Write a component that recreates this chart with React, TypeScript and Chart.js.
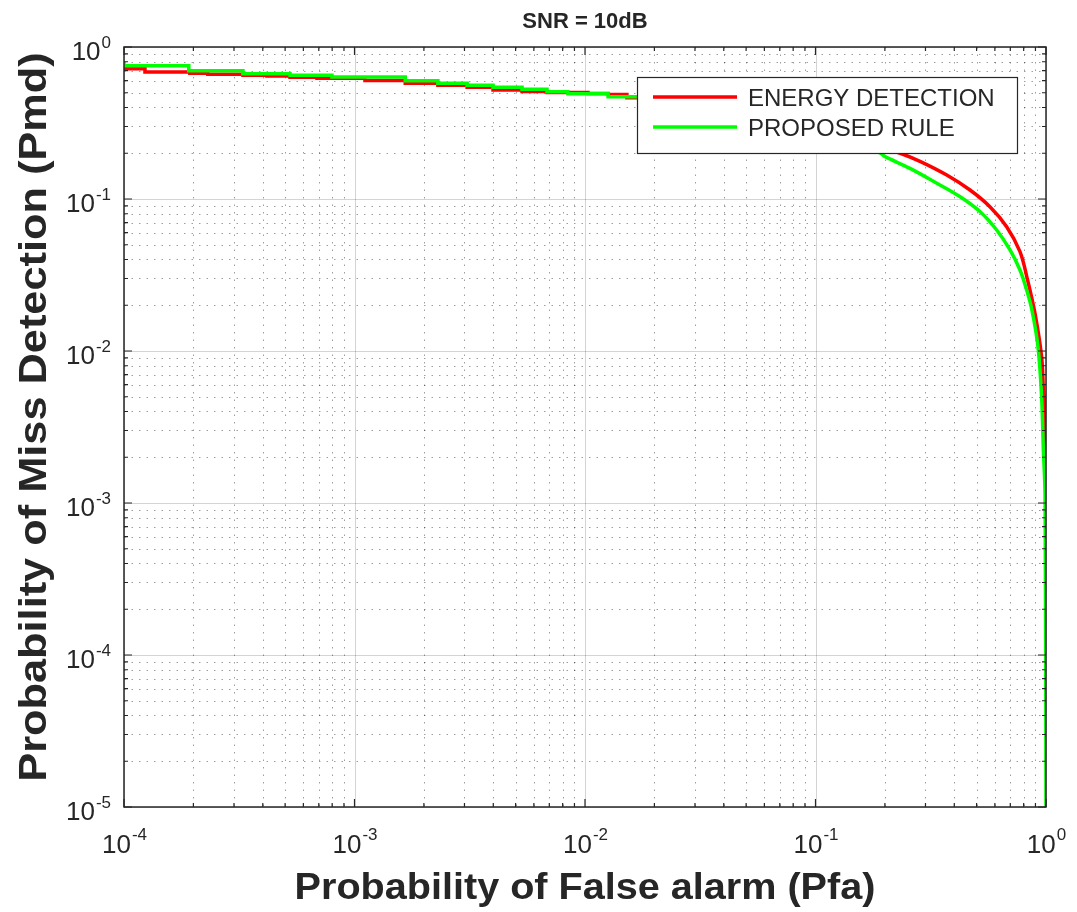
import React, { useEffect, useRef } from "react";
import { Chart, registerables } from "chart.js";
Chart.register(...registerables);

const TITLE = "SNR = 10dB";
const X_LABEL = "Probability of False alarm (Pfa)";
const Y_LABEL = "Probability of Miss Detection (Pmd)";
const SERIES_NAMES = ["ENERGY DETECTION", "PROPOSED RULE"];
const X_TICK_EXPONENTS = [-4, -3, -2, -1, 0];
const Y_TICK_EXPONENTS = [0, -1, -2, -3, -4, -5];

// Energy detection (red): staircase part (first 36 points), then smooth tail
const pfaEnergy = [
  1e-4, 1.233e-4, 1.233e-4, 1.93e-4, 1.93e-4, 2.31e-4, 2.31e-4, 3.28e-4, 3.28e-4,
  4.17e-4, 4.17e-4, 5.25e-4, 5.25e-4, 6.87e-4, 6.87e-4, 1.11e-3, 1.11e-3, 1.66e-3,
  1.66e-3, 2.3e-3, 2.3e-3, 3.08e-3, 3.08e-3, 3.99e-3, 3.99e-3, 5.33e-3, 5.33e-3,
  6.84e-3, 6.84e-3, 1.03e-2, 1.03e-2, 1.26e-2, 1.26e-2, 1.52e-2, 1.52e-2, 1.68e-2,
  0.0316, 0.0574, 0.1047, 0.156, 0.233, 0.284, 0.371, 0.468, 0.571, 0.675, 0.771,
  0.828, 0.895, 0.957, 0.973, 0.991, 1.0,
];
const pmdEnergy = [
  0.72, 0.72, 0.685, 0.685, 0.671, 0.671, 0.661, 0.661, 0.651, 0.651, 0.644, 0.644,
  0.632, 0.632, 0.622, 0.622, 0.602, 0.602, 0.577, 0.577, 0.56, 0.56, 0.543, 0.543,
  0.521, 0.521, 0.51, 0.51, 0.502, 0.502, 0.494, 0.494, 0.487, 0.487, 0.464, 0.464,
  0.428, 0.368, 0.298, 0.244, 0.2, 0.177, 0.1438, 0.1146, 0.089, 0.0657, 0.0451,
  0.0302, 0.0178, 0.00918, 0.00582, 0.00352, 0.00113,
];
const ENERGY_STEP_POINTS = 36;

// Proposed rule (green): staircase part (first 27 points), then smooth tail
const pfaProposed = [
  1e-4, 1e-4, 1.91e-4, 1.91e-4, 3.28e-4, 3.28e-4, 5.25e-4, 5.25e-4, 7.98e-4, 7.98e-4,
  1.66e-3, 1.66e-3, 2.3e-3, 2.3e-3, 3.08e-3, 3.08e-3, 3.99e-3, 3.99e-3, 5.33e-3,
  5.33e-3, 6.84e-3, 6.84e-3, 8.43e-3, 8.43e-3, 1.26e-2, 1.26e-2, 1.68e-2, 0.0316,
  0.0574, 0.1047, 0.156, 0.1905, 0.2005, 0.257, 0.336, 0.424, 0.518, 0.611, 0.698,
  0.771, 0.818, 0.869, 0.923, 0.957, 0.973, 0.991, 1.0,
];
const pmdProposed = [
  0.8, 0.753, 0.753, 0.698, 0.698, 0.667, 0.667, 0.651, 0.651, 0.635, 0.635, 0.6, 0.6,
  0.577, 0.577, 0.56, 0.56, 0.543, 0.543, 0.527, 0.527, 0.508, 0.508, 0.493, 0.493,
  0.471, 0.471, 0.422, 0.357, 0.276, 0.223, 0.201, 0.19, 0.159, 0.127, 0.1035, 0.0825,
  0.0625, 0.0462, 0.0341, 0.0262, 0.0186, 0.01067, 0.00501, 0.00235, 0.0011, 1e-5,
];
const PROPOSED_STEP_POINTS = 27;

const FONT = '"Liberation Sans", Arial, Helvetica, sans-serif';
const AXIS_COLOR = "#262626";
const RED = "#ff0000";
const GREEN = "#00ff00";

function drawScaledText(
  ctx: CanvasRenderingContext2D,
  text: string,
  x: number,
  y: number,
  font: string,
  align: CanvasTextAlign,
  sx: number,
  rot = 0
) {
  ctx.save();
  ctx.font = font;
  ctx.fillStyle = AXIS_COLOR;
  ctx.textAlign = align;
  ctx.textBaseline = "alphabetic";
  ctx.translate(x, y);
  if (rot) ctx.rotate(rot);
  ctx.scale(sx, 1);
  ctx.fillText(text, 0, 0);
  ctx.restore();
}

function logValues(min: number, max: number) {
  const out: { v: number; major: boolean }[] = [];
  const e0 = Math.floor(Math.log10(min));
  const e1 = Math.ceil(Math.log10(max));
  for (let e = e0; e <= e1; e++) {
    for (let m = 1; m <= 9; m++) {
      const v = m * Math.pow(10, e);
      if (v >= min * 0.9999 && v <= max * 1.0001) out.push({ v, major: m === 1 });
    }
  }
  return out;
}

const decor = {
  id: "matlabDecor",
  beforeDatasetsDraw(chart: any) {
    const { ctx, chartArea: a, scales } = chart;
    const xs = scales.x;
    const ys = scales.y;
    ctx.save();
    ctx.lineWidth = 1;
    for (const pass of [false, true]) {
      if (pass) {
        ctx.setLineDash([]);
        ctx.strokeStyle = "rgba(0,0,0,0.17)";
      } else {
        ctx.setLineDash([1.5, 6]);
        ctx.strokeStyle = "rgba(0,0,0,0.38)";
      }
      for (const t of logValues(xs.min, xs.max)) {
        if (t.major !== pass) continue;
        const px = Math.round(xs.getPixelForValue(t.v)) + 0.5;
        ctx.beginPath();
        ctx.moveTo(px, a.top);
        ctx.lineTo(px, a.bottom);
        ctx.stroke();
      }
      for (const t of logValues(ys.min, ys.max)) {
        if (t.major !== pass) continue;
        const py = Math.round(ys.getPixelForValue(t.v)) + 0.5;
        ctx.beginPath();
        ctx.moveTo(a.left, py);
        ctx.lineTo(a.right, py);
        ctx.stroke();
      }
    }
    ctx.restore();
  },
  afterDatasetsDraw(chart: any) {
    const { ctx, chartArea: a, scales } = chart;
    const xs = scales.x;
    const ys = scales.y;
    ctx.save();
    ctx.strokeStyle = AXIS_COLOR;
    ctx.lineWidth = 1.5;
    ctx.setLineDash([]);
    ctx.strokeRect(a.left, a.top, a.right - a.left, a.bottom - a.top);
    ctx.lineWidth = 1.2;
    for (const t of logValues(xs.min, xs.max)) {
      const px = xs.getPixelForValue(t.v);
      const len = t.major ? 8 : 4;
      ctx.beginPath();
      ctx.moveTo(px, a.bottom);
      ctx.lineTo(px, a.bottom - len);
      ctx.moveTo(px, a.top);
      ctx.lineTo(px, a.top + len);
      ctx.stroke();
    }
    for (const t of logValues(ys.min, ys.max)) {
      const py = ys.getPixelForValue(t.v);
      const len = t.major ? 8 : 4;
      ctx.beginPath();
      ctx.moveTo(a.left, py);
      ctx.lineTo(a.left + len, py);
      ctx.moveTo(a.right, py);
      ctx.lineTo(a.right - len, py);
      ctx.stroke();
    }
    ctx.restore();

    // tick labels with superscript exponents
    const baseFont = `26px ${FONT}`;
    const expFont = `17px ${FONT}`;
    ctx.save();
    ctx.fillStyle = AXIS_COLOR;
    ctx.textBaseline = "alphabetic";
    for (const e of X_TICK_EXPONENTS) {
      const px = xs.getPixelForValue(Math.pow(10, e));
      ctx.font = baseFont;
      const w1 = ctx.measureText("10").width;
      ctx.font = expFont;
      const w2 = ctx.measureText(String(e)).width;
      const start = px - (w1 + w2) / 2;
      ctx.textAlign = "left";
      ctx.font = baseFont;
      ctx.fillText("10", start, a.bottom + 46);
      ctx.font = expFont;
      ctx.fillText(String(e), start + w1 + 1, a.bottom + 33);
    }
    for (const e of Y_TICK_EXPONENTS) {
      const py = ys.getPixelForValue(Math.pow(10, e));
      ctx.font = expFont;
      const w2 = ctx.measureText(String(e)).width;
      ctx.textAlign = "right";
      ctx.fillText(String(e), a.left - 13, py + 1);
      ctx.font = baseFont;
      ctx.fillText("10", a.left - 14 - w2, py + 13);
    }
    ctx.restore();

    const cx = (a.left + a.right) / 2;
    const cy = (a.top + a.bottom) / 2;
    drawScaledText(ctx, TITLE, cx, 28, `bold 22px ${FONT}`, "center", 1);
    drawScaledText(ctx, X_LABEL, cx, a.bottom + 92, `bold 37px ${FONT}`, "center", 1.07);
    drawScaledText(ctx, Y_LABEL, 46, cy - 10, `bold 38px ${FONT}`, "center", 1.14, -Math.PI / 2);

    // legend
    const lx = 637, ly = 77, lw = 380, lh = 76;
    ctx.save();
    ctx.fillStyle = "#ffffff";
    ctx.fillRect(lx, ly, lw, lh);
    ctx.strokeStyle = AXIS_COLOR;
    ctx.lineWidth = 1.2;
    ctx.strokeRect(lx + 0.5, ly + 0.5, lw, lh);
    const colors = [RED, GREEN];
    SERIES_NAMES.forEach((name, i) => {
      const yy = ly + 20 + i * 30;
      ctx.strokeStyle = colors[i];
      ctx.lineWidth = 3.5;
      ctx.beginPath();
      ctx.moveTo(lx + 16, yy);
      ctx.lineTo(lx + 100, yy);
      ctx.stroke();
      ctx.fillStyle = AXIS_COLOR;
      ctx.font = `24px ${FONT}`;
      ctx.textAlign = "left";
      ctx.textBaseline = "alphabetic";
      ctx.fillText(name, lx + 111, yy + 9);
    });
    ctx.restore();
  },
};

function toPoints(xs: number[], ys: number[], from: number, to: number) {
  const pts: { x: number; y: number }[] = [];
  for (let i = from; i < to; i++) pts.push({ x: xs[i], y: ys[i] });
  return pts;
}

export default function App() {
  const ref = useRef<HTMLCanvasElement | null>(null);
  useEffect(() => {
    if (!ref.current) return;
    const common = { borderWidth: 3.5, pointRadius: 0, fill: false };
    const chart = new Chart(ref.current, {
      type: "line",
      data: {
        datasets: [
          {
            ...common,
            label: SERIES_NAMES[0],
            data: toPoints(pfaEnergy, pmdEnergy, 0, ENERGY_STEP_POINTS),
            borderColor: RED,
            tension: 0,
            order: 3,
          },
          {
            ...common,
            label: SERIES_NAMES[0],
            data: toPoints(pfaEnergy, pmdEnergy, ENERGY_STEP_POINTS - 1, pfaEnergy.length),
            borderColor: RED,
            tension: 0.35,
            order: 2,
          },
          {
            ...common,
            label: SERIES_NAMES[1],
            data: toPoints(pfaProposed, pmdProposed, 0, PROPOSED_STEP_POINTS),
            borderColor: GREEN,
            tension: 0,
            order: 1,
          },
          {
            ...common,
            label: SERIES_NAMES[1],
            data: toPoints(pfaProposed, pmdProposed, PROPOSED_STEP_POINTS - 1, pfaProposed.length),
            borderColor: GREEN,
            tension: 0.35,
            order: 0,
          },
        ],
      },
      options: {
        animation: false,
        responsive: false,
        parsing: false as any,
        layout: { padding: { left: 124, top: 47, right: 31, bottom: 105 } },
        plugins: {
          legend: { display: false },
          title: { display: false },
          tooltip: { enabled: false },
        },
        scales: {
          x: { type: "logarithmic", min: 1e-4, max: 1, display: false },
          y: { type: "logarithmic", min: 1e-5, max: 1, display: false },
        },
      },
      plugins: [decor],
    });
    return () => chart.destroy();
  }, []);
  return (
    <div style={{ position: "fixed", left: 0, top: 0, width: 1077, height: 912, background: "#fff" }}>
      <canvas ref={ref} width={1077} height={912} style={{ display: "block" }} />
    </div>
  );
}
